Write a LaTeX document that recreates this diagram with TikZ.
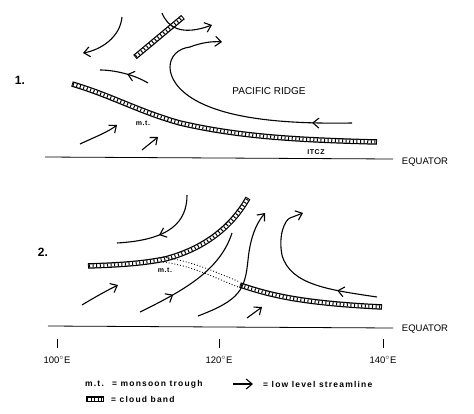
\documentclass[tikz,border=0pt]{standalone}
\usepackage{fontspec}
\setsansfont{Liberation Sans}
\usetikzlibrary{arrows.meta,decorations.markings}

\tikzset{
  flow/.style={line width=1.1pt, -{Straight Barb[length=6pt,width=10pt,line width=1.1pt]}},
  midflow/.style={line width=1.1pt, postaction={decorate}, decoration={markings,
      mark=at position #1 with {\arrow{Straight Barb[length=6pt,width=10pt,line width=1.1pt]}}}},
  cloudband/.style={line width=5.5pt, draw=black,
      postaction={draw=white, line width=3pt, shorten >=1pt, shorten <=1pt},
      postaction={draw=black, line width=3pt, dash pattern=on 1pt off 2.6pt, shorten >=1pt, shorten <=1pt}},
  lbl/.style={font=\sffamily\fontsize{9.5}{11}\selectfont, inner sep=1pt},
  small/.style={font=\sffamily\bfseries\fontsize{7}{8}\selectfont\addfontfeature{LetterSpace=8}, inner sep=1pt},
  legtext/.style={font=\sffamily\bfseries\fontsize{8.5}{10}\selectfont\addfontfeature{LetterSpace=14}, inner sep=1pt, anchor=west},
  num/.style={font=\sffamily\bfseries\fontsize{12}{14}\selectfont}
}

\begin{document}
\begin{tikzpicture}[x=1pt,y=-1pt]
  \useasboundingbox (0,0) rectangle (474,413);

  % panel 1
  \node[num] (one) at (20,80) {1.};
  \draw[line width=0.8pt] (45,157) -- (393,159);
  \node[lbl] (eq1) at (425,162) {EQUATOR};

  \draw[cloudband] (72,84) .. controls (110,95) and (140,112) .. (180,123)
                   .. controls (240,137) and (300,140) .. (377,142);
  \draw[cloudband] (135,57) -- (183,17);

  \draw[flow] (122,17) .. controls (120,38) and (100,50) .. (83,53);
  \draw[flow] (162,13) .. controls (168,28) and (182,36) .. (212,25);
  \draw[midflow=0.45] (148,83) .. controls (135,75) and (115,70) .. (100,70);
  \draw[midflow=0.17] (352,123) .. controls (290,124) and (230,120) .. (195,100)
                      .. controls (160,80) and (165,50) .. (190,47);
  \draw[flow] (190,47) .. controls (200,43) and (212,41) .. (222,42);
  \draw[flow] (80,144) .. controls (95,137) and (108,132) .. (117,125);
  \draw[flow] (142,150) -- (158,137);

  \node[lbl, font=\sffamily\fontsize{10}{12}\selectfont] (ridge) at (269,91) {PACIFIC RIDGE};
  \node[small] (mt1) at (143,123) {m.t.};
  \node[small] (itcz) at (316,152) {ITCZ};

  % panel 2
  \node[num] (two) at (43,252) {2.};
  \draw[line width=0.8pt] (48,326) -- (393,328);
  \node[lbl] (eq2) at (425,329) {EQUATOR};

  \draw[cloudband] (88,266) .. controls (115,265) and (140,264) .. (165,259)
                   .. controls (200,250) and (230,230) .. (248,198);
  \draw[cloudband] (240,285) .. controls (270,295) and (300,303) .. (382,307);
  \draw[dotted, line width=0.9pt] (163,257) .. controls (195,262) and (215,272) .. (240,282);
  \draw[dotted, line width=0.9pt] (163,262) .. controls (193,266) and (213,277) .. (238,287);

  \draw[midflow=0.55] (187,195) .. controls (187,222) and (170,240) .. (117,243);
  \draw[flow] (82,305) .. controls (95,297) and (108,290) .. (118,285);
  \draw[midflow=0.3] (140,312) .. controls (185,290) and (220,270) .. (232,233);
  \draw[flow] (198,316) .. controls (240,300) and (245,290) .. (248,260)
              .. controls (250,240) and (255,225) .. (265,213);
  \draw[flow] (247,318) -- (262,307);
  \draw[midflow=0.27] (377,297) .. controls (330,290) and (290,285) .. (282,255)
              .. controls (278,235) and (285,220) .. (290,218);
  \draw[flow] (290,218) -- (303,213);

  \node[small] (mt2) at (165,270) {m.t.};

  % longitude ticks
  \foreach \x/\lab [count=\i] in {57/100, 219/120, 383/140} {
    \draw[line width=1pt] (\x,339) -- (\x,348);
    \node[lbl] (lon\i) at (\x,360) {\lab$^\circ$E};
  }

  % legend
  \node[legtext] (legmt) at (84,384) {m.t. \ = monsoon trough};
  \coordinate (lega) at (233,384);
  \coordinate (legb) at (253,384);
  \draw[flow] (lega) -- (legb);
  \node[legtext] (legsl) at (262,384) {= low level streamline};
  \draw[cloudband] (86,399) -- (104,399);
  \node[legtext] (legcb) at (110,399) {= cloud band};
\end{tikzpicture}
\end{document}
